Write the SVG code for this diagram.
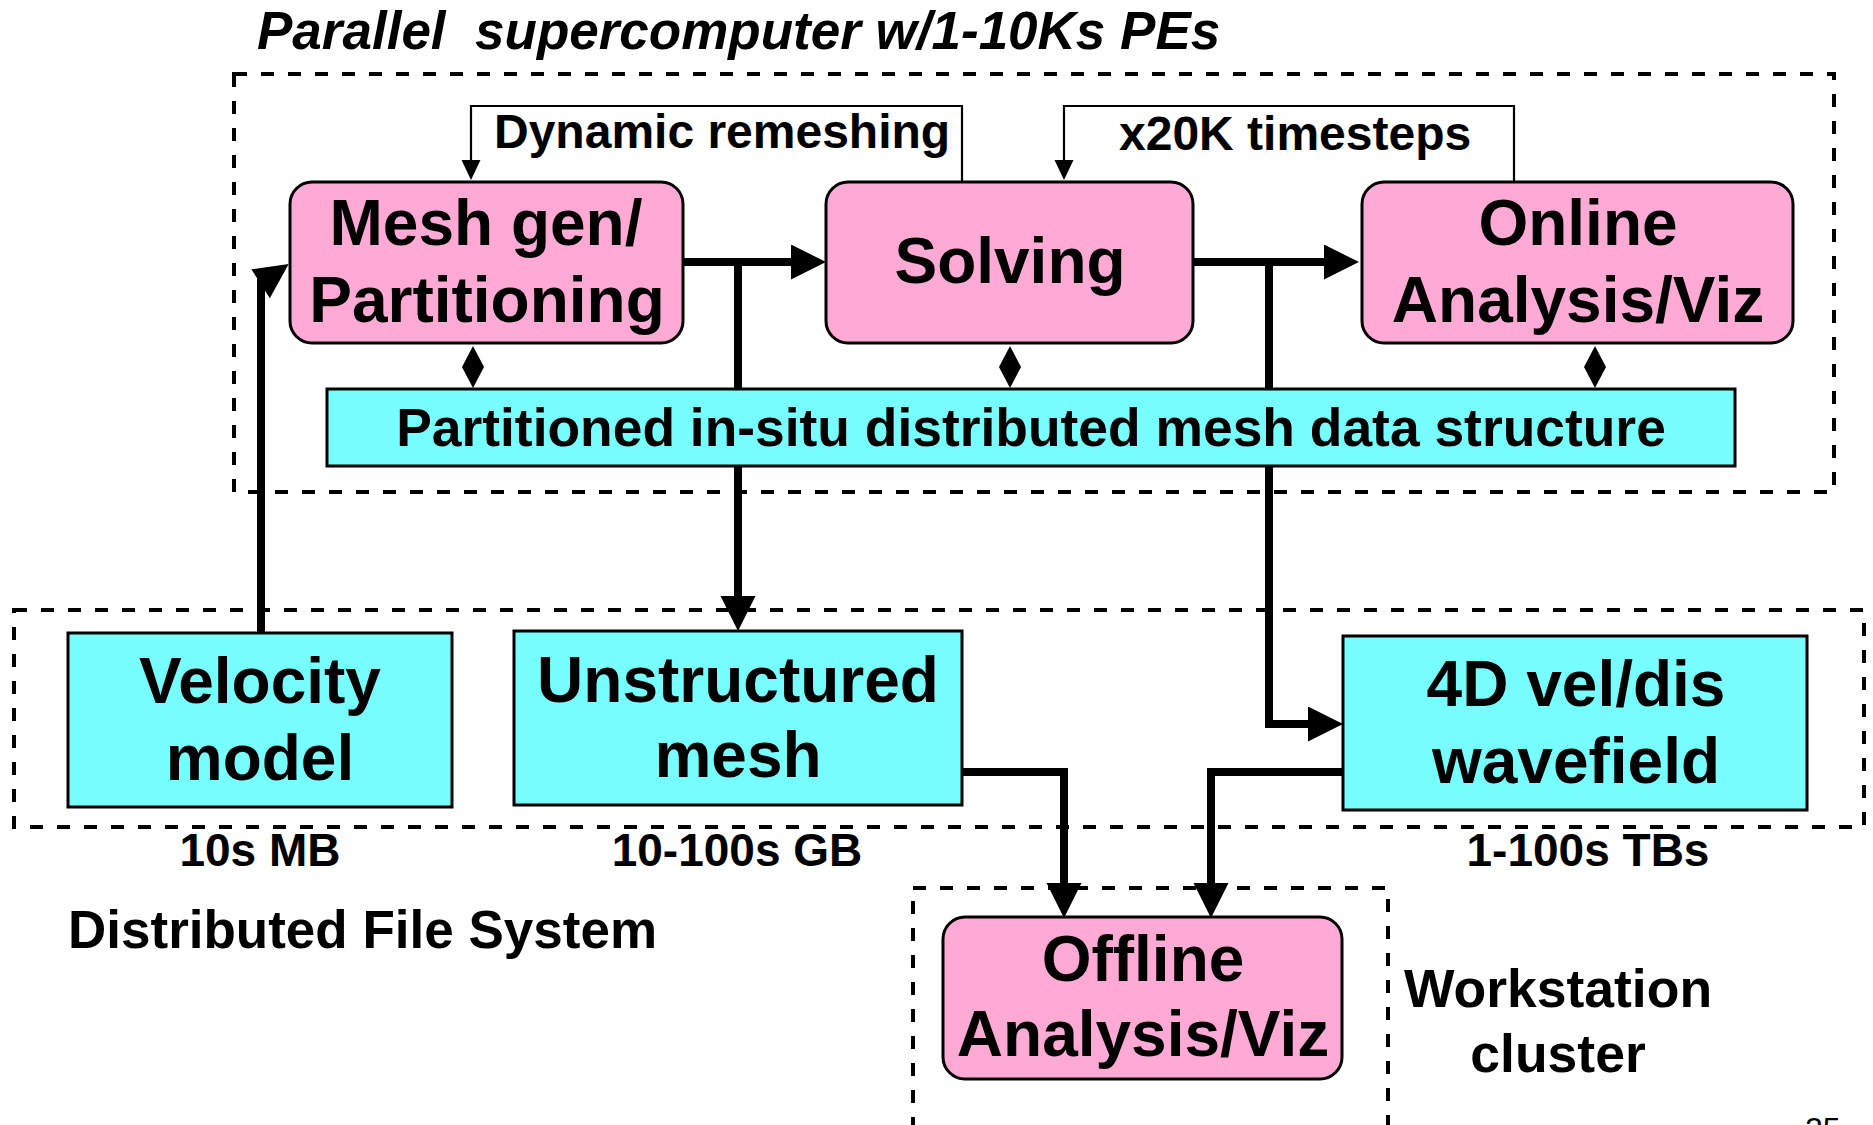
<svg xmlns="http://www.w3.org/2000/svg" width="1873" height="1125" viewBox="0 0 1873 1125">
<defs>
<style>
text{font-family:"Liberation Sans",Arial,sans-serif;font-weight:bold;fill:#000}
.big{font-size:64px;text-anchor:middle}
.mid{font-size:48px}
.size{font-size:46px;text-anchor:middle}
.dash{fill:none;stroke:#000;stroke-width:4;stroke-dasharray:13 14}
.pink{fill:#FFAAD4;stroke:#000;stroke-width:3}
.cyan{fill:#77FFFF;stroke:#000;stroke-width:3}
.thick{fill:none;stroke:#000;stroke-width:8}
.thin{fill:none;stroke:#000;stroke-width:2.2}
</style>
<marker id="ah" markerUnits="userSpaceOnUse" markerWidth="36" markerHeight="36" refX="3" refY="17.5" orient="auto">
<path d="M0,0 L35,17.5 L0,35 z" fill="#000"/>
</marker>
<marker id="ahs" markerUnits="userSpaceOnUse" markerWidth="21" markerHeight="20" refX="1" refY="9.5" orient="auto">
<path d="M0,0 L20,9.5 L0,19 z" fill="#000"/>
</marker>
</defs>
<rect width="1873" height="1125" fill="#fff"/>

<g id="groups">
<rect class="dash" x="234" y="74" width="1600" height="418"/>
<rect class="dash" x="14" y="610" width="1850" height="217"/>
<rect class="dash" x="913" y="888" width="475" height="240"/>
<text x="257" y="49" style="font-size:53px;font-style:italic" xml:space="preserve">Parallel  supercomputer w/1-10Ks PEs</text>
<text x="68" y="948" style="font-size:53px">Distributed File System</text>
<text x="1558" y="1007" style="font-size:53.5px;text-anchor:middle">Workstation</text>
<text x="1558" y="1072" style="font-size:53.5px;text-anchor:middle">cluster</text>
<text x="1805" y="1140" style="font-size:32px;font-weight:normal">25</text>
</g>

<g id="connectors">
<path class="thin" d="M962,181 V106 H471 V161" marker-end="url(#ahs)"/>
<path class="thin" d="M1514,181 V106 H1064 V161" marker-end="url(#ahs)"/>
<text class="mid" x="494" y="148">Dynamic remeshing</text>
<text class="mid" x="1119" y="150">x20K timesteps</text>
<path class="thick" d="M683,262 H794" marker-end="url(#ah)"/>
<path class="thick" d="M738,262 V599" marker-end="url(#ah)"/>
<path class="thick" d="M1193,262 H1327" marker-end="url(#ah)"/>
<path class="thick" d="M1269,262 V724 H1311" marker-end="url(#ah)"/>
<path class="thick" d="M261,633 V279"/>
<polygon points="251.4,269.3 288.7,264 269.8,298.3" fill="#000"/>
<path class="thick" d="M962,772 H1064 V886" marker-end="url(#ah)"/>
<path class="thick" d="M1343,772 H1211 V886" marker-end="url(#ah)"/>
<polygon points="473,346 484,367 473,388 462,367" fill="#000"/>
<polygon points="1010,346 1021,367 1010,388 999,367" fill="#000"/>
<polygon points="1595,346 1606,367 1595,388 1584,367" fill="#000"/>
</g>

<g id="meshgen">
<rect class="pink" x="290" y="182" width="393" height="161" rx="22"/>
<text class="big" x="486" y="245">Mesh gen/</text>
<text class="big" x="487" y="322">Partitioning</text>
</g>
<g id="solving">
<rect class="pink" x="826" y="182" width="367" height="161" rx="22"/>
<text class="big" x="1010" y="283">Solving</text>
</g>
<g id="online">
<rect class="pink" x="1362" y="182" width="431" height="161" rx="22"/>
<text class="big" x="1578" y="245">Online</text>
<text class="big" x="1578" y="322">Analysis/Viz</text>
</g>
<g id="meshdata">
<rect class="cyan" x="327" y="389" width="1408" height="77"/>
<text x="1031" y="446" style="font-size:53.4px;text-anchor:middle">Partitioned in-situ distributed mesh data structure</text>
</g>
<g id="velocity">
<rect class="cyan" x="68" y="633" width="384" height="174"/>
<text class="big" x="260" y="703">Velocity</text>
<text class="big" x="260" y="780">model</text>
<text class="size" x="260" y="866">10s MB</text>
</g>
<g id="unstructured">
<rect class="cyan" x="514" y="631" width="448" height="174"/>
<text class="big" x="738" y="702">Unstructured</text>
<text class="big" x="738" y="777">mesh</text>
<text class="size" x="737" y="866">10-100s GB</text>
</g>
<g id="wavefield">
<rect class="cyan" x="1343" y="636" width="464" height="174"/>
<text class="big" x="1576" y="706">4D vel/dis</text>
<text class="big" x="1576" y="783">wavefield</text>
<text class="size" x="1588" y="866">1-100s TBs</text>
</g>
<g id="offline">
<rect class="pink" x="943" y="917" width="399" height="162" rx="22"/>
<text class="big" x="1143" y="981">Offline</text>
<text class="big" x="1143" y="1056">Analysis/Viz</text>
</g>
</svg>
